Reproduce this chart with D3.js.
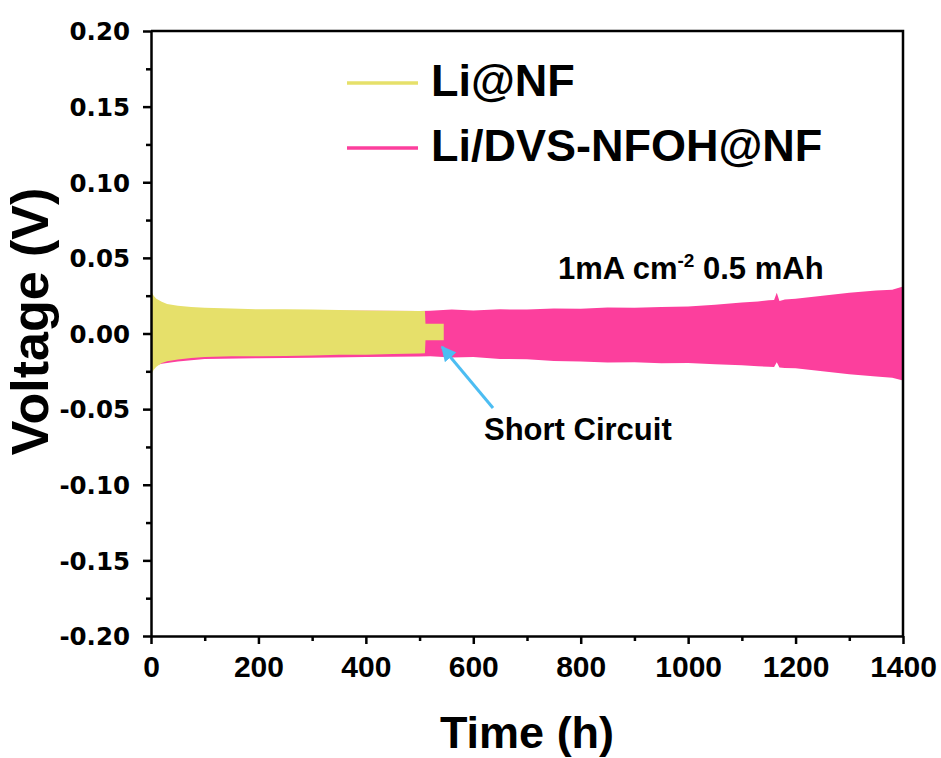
<!DOCTYPE html>
<html>
<head>
<meta charset="utf-8">
<script src="https://cdn.jsdelivr.net/npm/d3@7"></script>
<style>
  body { margin: 0; background: #fff; }
  svg text { font-family: "Liberation Sans", Arial, sans-serif; font-weight: bold; fill: #000; }
</style>
</head>
<body>
<div id="chart"></div>
<script>
// Li@NF envelope (h, V) - ends with the short circuit step
var liTime  = [0, 2, 5, 10, 20, 30, 50, 75, 100, 150, 200, 250, 300, 350, 400, 450, 500, 510, 511, 545];
var liUpper = [0.029, 0.027, 0.025, 0.023, 0.021, 0.0195, 0.0183, 0.0176, 0.017, 0.0165, 0.016, 0.016, 0.0158, 0.0155, 0.0152, 0.015, 0.0148, 0.0148, 0.0065, 0.0065];
var liLower = [-0.027, -0.026, -0.024, -0.022, -0.0195, -0.0183, -0.0172, -0.0162, -0.0155, -0.015, -0.015, -0.0148, -0.0145, -0.014, -0.014, -0.0135, -0.0132, -0.013, -0.0044, -0.0044];

// Li/DVS-NFOH@NF envelope
var dvsTime  = [0, 20, 50, 100, 200, 300, 400, 500, 520, 560, 600, 650, 700, 750, 800, 850, 900, 950, 1000, 1050, 1100, 1130, 1150, 1160, 1165, 1170, 1180, 1200, 1250, 1300, 1350, 1380, 1400];
var dvsUpper = [0.020, 0.018, 0.017, 0.016, 0.0155, 0.015, 0.015, 0.0148, 0.015, 0.0158, 0.0152, 0.016, 0.0158, 0.0166, 0.0163, 0.0172, 0.017, 0.0176, 0.0178, 0.019, 0.0205, 0.0212, 0.022, 0.0222, 0.027, 0.0215, 0.0225, 0.023, 0.025, 0.027, 0.0285, 0.029, 0.031];
var dvsLower = [-0.022, -0.02, -0.0185, -0.0168, -0.0163, -0.016, -0.0155, -0.0152, -0.015, -0.0158, -0.0155, -0.0168, -0.017, -0.0182, -0.0185, -0.0192, -0.019, -0.0196, -0.0195, -0.0203, -0.021, -0.0216, -0.022, -0.0222, -0.019, -0.0225, -0.0228, -0.023, -0.025, -0.027, -0.0285, -0.0292, -0.031];

var xTicks = [0, 200, 400, 600, 800, 1000, 1200, 1400];
var yTicks = [-0.20, -0.15, -0.10, -0.05, 0.00, 0.05, 0.10, 0.15, 0.20];

var seriesNames = ['Li@NF', 'Li/DVS-NFOH@NF'];
var seriesColors = ['#e6e06a', '#fc3f9d'];

var W = 941, H = 758,
  margin = {top: 31, right: 38, bottom: 122, left: 151},
  width = W - margin.left - margin.right,
  height = H - margin.top - margin.bottom;

var svg = d3.select('#chart').append('svg')
  .attr('width', W)
  .attr('height', H);

var g = svg.append('g')
  .attr('transform', 'translate(' + margin.left + ',' + margin.top + ')');

var x = d3.scaleLinear().domain([0, 1400]).range([0, width]);
var y = d3.scaleLinear().domain([-0.2, 0.2]).range([height, 0]);

function envelope(t, up, lo) {
  return t.map(function (d, i) {
    return {t: d, up: up[i], lo: lo[i]};
  });
}

var area = d3.area()
  .x(function (d) { return x(d.t); })
  .y0(function (d) { return y(d.lo); })
  .y1(function (d) { return y(d.up); });

// pink first, yellow on top
g.append('path')
  .datum(envelope(dvsTime, dvsUpper, dvsLower))
  .attr('fill', seriesColors[1])
  .attr('d', area);

g.append('path')
  .datum(envelope(liTime, liUpper, liLower))
  .attr('fill', seriesColors[0])
  .attr('d', area);

// axes
var xAxis = g.append('g')
  .attr('transform', 'translate(0,' + height + ')')
  .call(d3.axisBottom(x).tickValues(xTicks).tickSize(8).tickSizeOuter(0).tickFormat(d3.format('d')));

g.append('g')
  .attr('transform', 'translate(0,' + height + ')')
  .call(d3.axisBottom(x).tickValues(d3.range(100, 1400, 200)).tickSize(5).tickFormat(''))
  .select('.domain').remove();

var fmtY = d3.format('.2f');
var yAxis = g.append('g')
  .call(d3.axisLeft(y).tickValues(yTicks).tickSize(8).tickSizeOuter(0)
    .tickFormat(function (d) { return fmtY(d).replace('\u2212', '-'); }));

g.append('g')
  .call(d3.axisLeft(y).tickValues(d3.range(-0.175, 0.2, 0.05)).tickSize(5).tickFormat(''))
  .select('.domain').remove();

g.selectAll('.tick line').attr('stroke', '#000').attr('stroke-width', 2.5);
g.selectAll('.domain').attr('stroke', '#000').attr('stroke-width', 2.5);

xAxis.selectAll('text')
  .attr('font-size', 30)
  .attr('dy', null)
  .attr('y', 41);

yAxis.selectAll('text')
  .style('font-family', '"DejaVu Sans", sans-serif')
  .attr('font-size', 24.5)
  .attr('dy', '0.36em')
  .attr('x', -21);

// top and right frame
g.append('path')
  .attr('d', 'M0,0H' + width + 'V' + height)
  .attr('fill', 'none')
  .attr('stroke', '#000')
  .attr('stroke-width', 2.5);

// axis titles
svg.append('text')
  .attr('x', margin.left + width / 2)
  .attr('y', 748)
  .attr('text-anchor', 'middle')
  .attr('font-size', 45)
  .text('Time (h)');

svg.append('text')
  .attr('transform', 'translate(48,' + (margin.top + height / 2 - 12) + ') rotate(-90)')
  .attr('text-anchor', 'middle')
  .attr('font-size', 52)
  .text('Voltage (V)');

// legend
var legend = svg.append('g');
var legendY = [83, 148];
seriesNames.forEach(function (name, i) {
  legend.append('line')
    .attr('x1', 347).attr('x2', 418)
    .attr('y1', legendY[i]).attr('y2', legendY[i])
    .attr('stroke', seriesColors[i])
    .attr('stroke-width', 3.5);
  legend.append('text')
    .attr('x', 431)
    .attr('y', legendY[i] + 13)
    .attr('font-size', 45)
    .text(name);
});

// current density note
var note = svg.append('text')
  .attr('x', 558)
  .attr('y', 279)
  .attr('font-size', 31);
note.append('tspan').text('1mA cm');
note.append('tspan').attr('font-size', 19).attr('dy', -12).text('-2');
note.append('tspan').attr('dy', 12).text(' 0.5 mAh');

// short circuit arrow
svg.append('defs').append('marker')
  .attr('id', 'arrowhead')
  .attr('viewBox', '0 0 10 10')
  .attr('refX', 9).attr('refY', 5)
  .attr('markerWidth', 5).attr('markerHeight', 5)
  .attr('orient', 'auto')
  .append('path')
  .attr('d', 'M0,0L10,5L0,10z')
  .attr('fill', '#4cbdf2');

svg.append('line')
  .attr('x1', 493).attr('y1', 408)
  .attr('x2', 442).attr('y2', 347)
  .attr('stroke', '#4cbdf2')
  .attr('stroke-width', 3)
  .attr('marker-end', 'url(#arrowhead)');

svg.append('text')
  .attr('x', 484)
  .attr('y', 440)
  .attr('font-size', 31)
  .text('Short Circuit');
</script>
</body>
</html>
